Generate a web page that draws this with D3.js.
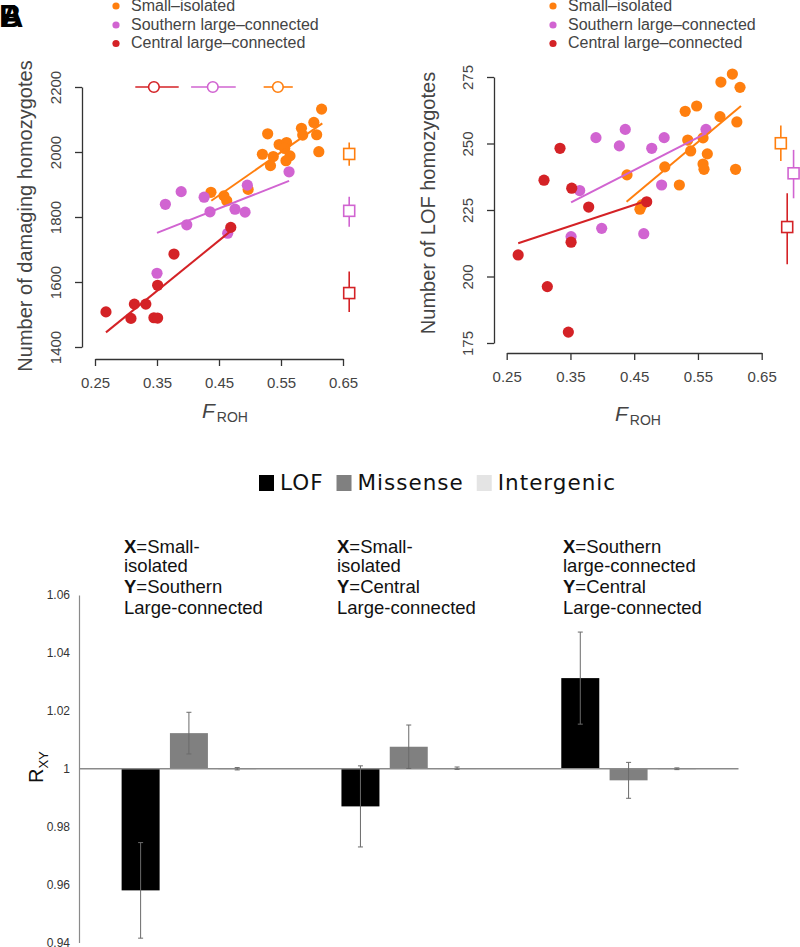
<!DOCTYPE html>
<html>
<head>
<meta charset="UTF-8" />
<title>ROH and genetic load</title>
<script src="https://d3js.org/d3.v7.min.js"></script>
<style>
body { margin: 0; background: #fff; }
svg { display: block; }
</style>
</head>
<body>
<svg id="chart" width="800" height="947"></svg>

<script type="text/javascript">
// colours
orange = "#ff7f0f"
purple = "#d164d1"
red = "#d42226"
axisGray = "#333"
textGray = "#444"

// ---- data, top panels ----
groups = ["Small\u2013isolated", "Southern large\u2013connected", "Central large\u2013connected"]
groupColors = [orange, purple, red]

// A: damaging homozygotes vs F_ROH  [F_ROH, count]
dmgSmall = [[0.6155,2132],[0.583,2073],[0.603,2091],[0.6075,2053],[0.585,2052],[0.611,2001],[0.5285,2056],[0.547,2023],[0.559,2029],[0.556,2011],[0.52,1993],[0.5375,1986],[0.5645,1988],[0.533,1958],[0.558,1973],[0.437,1876],[0.458,1865],[0.4625,1850],[0.497,1885]]
dmgSouth = [[0.563,1939],[0.4957,1898],[0.389,1878],[0.426,1861],[0.3635,1839],[0.4355,1816],[0.4758,1824],[0.492,1815],[0.398,1776],[0.464,1750],[0.35,1627]]
dmgCentral = [[0.469,1768],[0.3774,1686],[0.351,1590],[0.3135,1532],[0.332,1532],[0.2677,1508],[0.308,1488],[0.345,1490],[0.351,1489]]
dmgFit = [[[0.4376,1850],[0.6166,2088]], [[0.35,1751],[0.563,1911]], [[0.2677,1445],[0.4677,1755]]]
dmgTicks = [1400, 1600, 1800, 2000, 2200]

// group means of F_ROH (shown at top of A)
frohMean = [0.545, 0.44, 0.345]
frohLo = [0.522, 0.405, 0.315]
frohHi = [0.569, 0.477, 0.385]

// group means of damaging count (squares at right of A)
dmgMeanF = [0.66, 0.66, 0.66]
dmgMean = [1994, 1819, 1566]
dmgLo = [1958, 1770, 1508]
dmgHi = [2029, 1862, 1632]

// B: LOF homozygotes vs F_ROH
lofSmall = [[0.604,276.1],[0.586,273.1],[0.616,271.1],[0.53,262.1],[0.548,264.1],[0.5846,260.1],[0.611,258.1],[0.534,251.3],[0.558,252.1],[0.5386,247.2],[0.5647,246.1],[0.558,242.3],[0.5595,240.3],[0.609,240.3],[0.498,241.2],[0.4387,238.2],[0.5208,234.4],[0.459,225.3],[0.462,226.9]]
lofSouth = [[0.5626,255.3],[0.436,255.3],[0.39,252.2],[0.497,252.2],[0.4267,249.1],[0.4775,248.2],[0.493,234.4],[0.3645,232.3],[0.351,215],[0.399,218.1],[0.465,216.1]]
lofCentral = [[0.3336,248.2],[0.3085,236.2],[0.352,233.2],[0.4696,228.1],[0.3786,226.1],[0.351,212.9],[0.268,208.1],[0.3137,196.2],[0.3467,179.1]]
lofFit = [[[0.438,228.1],[0.6175,264.1]], [[0.351,227.9],[0.5626,253.8]], [[0.268,212.5],[0.4696,228.5]]]
lofTicks = [175, 200, 225, 250, 275]

lofMeanF = [0.68, 0.70, 0.69]
lofMean = [250.1, 238.8, 218.6]
lofLo = [243.4, 229.4, 204.6]
lofHi = [256.8, 247.6, 231.3]

frohTicks = [0.25, 0.35, 0.45, 0.55, 0.65]

// ---- data, bottom panel ----
pairs = ["SI-SL", "SI-CL", "SL-CL"]
pairText = [
	[["X", "=Small-"], ["", "isolated"], ["Y", "=Southern"], ["", "Large-connected"]],
	[["X", "=Small-"], ["", "isolated"], ["Y", "=Central"], ["", "Large-connected"]],
	[["X", "=Southern"], ["", "large-connected"], ["Y", "=Central"], ["", "Large-connected"]]
]
classes = ["LOF", "Missense", "Intergenic"]
classColors = ["#000000", "#808080", "#e4e4e4"]
lofR = [0.958, 0.987, 1.0313]
lofErr = [0.0165, 0.014, 0.0159]
misR = [1.0123, 1.0076, 0.996]
misErr = [0.0072, 0.0075, 0.0062]
intR = [1.0, 1.0002, 1.0]
intErr = [0.0004, 0.0004, 0.0003]
rTicks = [0.94, 0.96, 0.98, 1, 1.02, 1.04, 1.06]

var svg = d3.select("#chart")
var sans = "'Liberation Sans', Arial, Helvetica, sans-serif"

// panel letters (overlapping, as in the source figure)
svg.append("text").attr("x", -1).attr("y", 27).text("B")
	.style("font-family", sans).style("font-weight", "bold").style("font-size", "31px")
svg.append("text").attr("x", 1).attr("y", 27).text("A")
	.style("font-family", sans).style("font-weight", "bold").style("font-size", "31px")

function scatterPanel(p){
	var x = d3.scaleLinear().domain([0.25, 0.65]).range(p.xRange)
	var y = d3.scaleLinear().domain(p.yDomain).range(p.yRange)
	var g = svg.append("g")

	// legend
	groups.forEach((name, i) => {
		g.append("circle").attr("cx", p.legX).attr("cy", [6, 25, 43.5][i]).attr("r", 3.6)
			.style("fill", groupColors[i])
		g.append("text").attr("x", p.legX + 15).attr("y", [10.8, 29.5, 48][i]).text(name)
			.style("font-family", sans).style("font-size", "16px").style("fill", textGray)
	})

	// axes
	var yAxis = d3.axisLeft(y).tickValues(p.yTicks).tickSize(7).tickSizeOuter(0).tickFormat(d3.format("d"))
	var ya = g.append("g").attr("transform", "translate(" + p.yAxisX + ",0)").call(yAxis)
	ya.selectAll("text")
		.attr("x", null).attr("dy", null)
		.attr("transform", "translate(-21,0) rotate(-90)")
		.style("text-anchor", "middle")
	var xAxis = d3.axisBottom(x).tickValues(frohTicks).tickSize(7).tickSizeOuter(0).tickFormat(d3.format(".2f"))
	var xa = g.append("g").attr("transform", "translate(0," + p.xAxisY + ")").call(xAxis)
	xa.selectAll("text").attr("y", 18)
	;[ya, xa].forEach(a => {
		a.selectAll("path, line").style("stroke", axisGray).style("stroke-width", 1.3)
		a.selectAll("text").style("font-family", sans).style("font-size", "15px").style("fill", textGray)
	})

	// axis titles
	g.append("text").attr("transform", "translate(" + p.yTitle[0] + "," + p.yTitle[1] + ") rotate(-90)")
		.style("text-anchor", "middle").style("font-family", sans).style("font-size", "20px")
		.style("fill", textGray).text(p.yLabel)
	var xt = g.append("text").attr("x", p.xTitle[0]).attr("y", p.xTitle[1])
		.style("font-family", sans).style("fill", textGray)
	xt.append("tspan").text("F").style("font-style", "italic").style("font-size", "21px")
	xt.append("tspan").text("ROH").attr("dx", 2).attr("dy", 4).style("font-size", "14px")

	// points
	p.sets.forEach((set, i) => {
		g.selectAll(".pt" + i).data(set).enter().append("circle")
			.attr("cx", d => x(d[0])).attr("cy", d => y(d[1])).attr("r", 5.6)
			.style("fill", groupColors[i])
	})
	// fitted lines
	p.fits.forEach((f, i) => {
		g.append("path").attr("d", d3.line().x(d => x(d[0])).y(d => y(d[1]))(f))
			.style("stroke", groupColors[i]).style("stroke-width", 2).style("fill", "none")
	})

	// group means with intervals (squares)
	groups.forEach((name, i) => {
		var cx = x(p.meanF[i])
		g.append("line").attr("x1", cx).attr("x2", cx).attr("y1", y(p.lo[i])).attr("y2", y(p.hi[i]))
			.style("stroke", groupColors[i]).style("stroke-width", 1.6)
		g.append("rect").attr("x", cx - 5.5).attr("y", y(p.mean[i]) - 5.5).attr("width", 11).attr("height", 11)
			.style("fill", "#fff").style("stroke", groupColors[i]).style("stroke-width", 1.6)
	})

	// F_ROH means with intervals (circles along the top)
	if (p.frohRow) {
		groups.forEach((name, i) => {
			var cy = y(p.frohRow)
			g.append("line").attr("x1", x(frohLo[i])).attr("x2", x(frohHi[i])).attr("y1", cy).attr("y2", cy)
				.style("stroke", groupColors[i]).style("stroke-width", 1.6)
			g.append("circle").attr("cx", x(frohMean[i])).attr("cy", cy).attr("r", 5.3)
				.style("fill", "#fff").style("stroke", groupColors[i]).style("stroke-width", 1.6)
		})
	}
}

scatterPanel({
	xRange: [95, 343], yDomain: [1400, 2200], yRange: [347, 87], yTicks: dmgTicks,
	yAxisX: 82, xAxisY: 359, legX: 116,
	yTitle: [32, 216], yLabel: "Number of damaging homozygotes", xTitle: [202, 418],
	sets: [dmgSmall, dmgSouth, dmgCentral], fits: dmgFit,
	meanF: dmgMeanF, mean: dmgMean, lo: dmgLo, hi: dmgHi, frohRow: 2200
})
scatterPanel({
	xRange: [506.7, 761.7], yDomain: [175, 275], yRange: [343, 77], yTicks: lofTicks,
	yAxisX: 494, xAxisY: 353, legX: 553,
	yTitle: [435, 203], yLabel: "Number of LOF homozygotes", xTitle: [615, 421],
	sets: [lofSmall, lofSouth, lofCentral], fits: lofFit,
	meanF: lofMeanF, mean: lofMean, lo: lofLo, hi: lofHi, frohRow: null
})

// ---- bottom panel: R_XY bars ----
var x0 = d3.scaleBand().domain(pairs).range([79, 738.5])
var xs = d3.scalePoint().domain(classes).range([-48.3, 48.3])
var yR = d3.scaleLinear().domain([0.94, 1.06]).range([942.5, 595])
var barW = 38
var barData = []
pairs.forEach((p, j) => {
	[[lofR, lofErr], [misR, misErr], [intR, intErr]].forEach((s, i) => {
		barData.push({pair: p, cls: classes[i], v: s[0][j], e: s[1][j], color: classColors[i]})
	})
})

var bg = svg.append("g")
// y axis (no tick marks)
var rAxis = d3.axisLeft(yR).tickValues(rTicks).tickSize(0).tickPadding(9).tickFormat(d => d == 1 ? "1" : d3.format(".2f")(d))
var ra = bg.append("g").attr("transform", "translate(79,0)").call(rAxis)
ra.select(".domain").style("stroke", "#8a8a8a").style("stroke-width", 1.2)
ra.selectAll("text").style("font-family", sans).style("font-size", "12px").style("fill", "#333")

bg.selectAll(".bar").data(barData).enter().append("rect")
	.attr("x", d => x0(d.pair) + x0.bandwidth() / 2 + xs(d.cls) - barW / 2)
	.attr("width", barW)
	.attr("y", d => Math.min(yR(d.v), yR(1)))
	.attr("height", d => Math.max(Math.abs(yR(d.v) - yR(1)), 1))
	.style("fill", d => d.color)

// baseline at 1
bg.append("line").attr("x1", 79).attr("x2", x0.range()[1]).attr("y1", yR(1)).attr("y2", yR(1))
	.style("stroke", "#8a8a8a").style("stroke-width", 1.4)

// error bars
var eb = bg.selectAll(".err").data(barData).enter().append("g")
	.attr("transform", d => "translate(" + (x0(d.pair) + x0.bandwidth() / 2 + xs(d.cls)) + ",0)")
eb.append("line").attr("y1", d => yR(d.v - d.e)).attr("y2", d => yR(d.v + d.e))
	.style("stroke", "#6a6a6a").style("stroke-width", 1)
eb.append("line").attr("x1", -2.5).attr("x2", 2.5).attr("y1", d => yR(d.v - d.e)).attr("y2", d => yR(d.v - d.e))
	.style("stroke", "#6a6a6a").style("stroke-width", 1)
eb.append("line").attr("x1", -2.5).attr("x2", 2.5).attr("y1", d => yR(d.v + d.e)).attr("y2", d => yR(d.v + d.e))
	.style("stroke", "#6a6a6a").style("stroke-width", 1)

// R_XY title
var rt = bg.append("text").attr("transform", "translate(43,783) rotate(-90)")
	.style("font-family", sans).style("fill", "#111")
rt.append("tspan").text("R").style("font-size", "20px")
rt.append("tspan").text("XY").attr("dy", 5).style("font-size", "13px")

// pair annotations, placed as in the source figure
var annotX = [124, 337, 563]
pairs.forEach((p, j) => {
	var ag = bg.append("g").attr("transform", "translate(" + annotX[j] + ",0)")
	pairText[j].forEach((ln, k) => {
		var t = ag.append("text").attr("x", 0).attr("y", [553, 572, 593, 614][k])
			.style("font-family", sans).style("font-size", "18.5px").style("fill", "#111")
		if (ln[0]) t.append("tspan").text(ln[0]).style("font-weight", "bold")
		t.append("tspan").text(ln[1])
	})
})

// legend
var lx = 259
classes.forEach((c, i) => {
	bg.append("rect").attr("x", lx).attr("y", 475).attr("width", 15).attr("height", 16).style("fill", classColors[i])
	var t = bg.append("text").attr("x", lx + 21).attr("y", 490)
		.style("font-family", "'DejaVu Sans', Verdana, sans-serif").style("font-size", "21.5px")
		.style("letter-spacing", "1px").style("fill", "#111").text(c)
	lx += 21 + t.node().getComputedTextLength() + 13
})
</script>
</body>
</html>
